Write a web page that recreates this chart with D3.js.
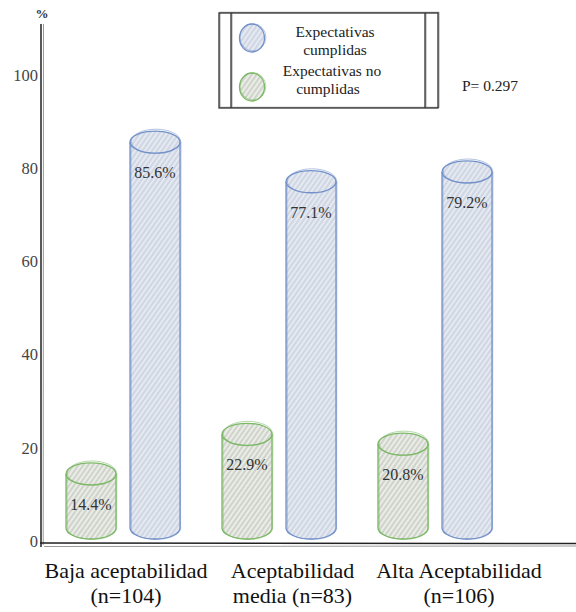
<!DOCTYPE html>
<html>
<head>
<meta charset="utf-8">
<script src="https://cdn.jsdelivr.net/npm/d3@7/dist/d3.min.js"></script>
<style>
  html, body { margin: 0; padding: 0; background: #fff; }
  svg { display: block; }
  svg text { font-family: "Liberation Serif", "Times New Roman", serif; }
</style>
</head>
<body>
<script>
// ---- data ----
const categories = ["Baja aceptabilidad", "Aceptabilidad media", "Alta Aceptabilidad"];
const categoryLines = [["Baja aceptabilidad", "(n=104)"], ["Aceptabilidad", "media (n=83)"], ["Alta Aceptabilidad", "(n=106)"]];
const seriesKeys = ["no", "si"];
const seriesNames = ["Expectativas cumplidas", "Expectativas no cumplidas"];
const noCumplidas = [14.4, 22.9, 20.8];
const cumplidas = [85.6, 77.1, 79.2];
const yTicks = [0, 20, 40, 60, 80, 100];
const pText = "P= 0.297";
const axisUnit = "%";

// ---- layout ----
const W = 576, H = 612;
const SERIF = "Liberation Serif";
const svg = d3.select("body").append("svg").attr("width", W).attr("height", H);

const y = d3.scaleLinear().domain([0, 100]).range([541, 75]);
const x0 = d3.scaleBand().domain(categories).range([66, 492]).paddingInner(0.269).paddingOuter(0);
const x1 = d3.scaleBand().domain(seriesKeys).range([0, x0.bandwidth()]).paddingInner(0.219);
const labelX = d3.scalePoint().domain(categories).range([126, 459]);

const palette = {
  si: { stroke: "#7391c9", fill: "#e4e9f2", hatch: "#bcc4d2" },
  no: { stroke: "#7cb866", fill: "#eaede6", hatch: "#b6bab3" }
};

// hatch patterns
const defs = svg.append("defs");
Object.entries(palette).forEach(([k, c]) => {
  const p = defs.append("pattern")
    .attr("id", "hatch-" + k)
    .attr("patternUnits", "userSpaceOnUse")
    .attr("width", 4).attr("height", 4)
    .attr("patternTransform", "rotate(35)");
  p.append("rect").attr("width", 4).attr("height", 4).attr("fill", c.fill);
  p.append("line").attr("x1", 1).attr("y1", 0).attr("x2", 1).attr("y2", 4)
    .attr("stroke", c.hatch).attr("stroke-width", 1);
});

// sketch passes: each outline is traced twice with a slight offset
const passes = [
  { dx: 0, dy: 0, dr: 0, op: 1, sw: 1.3 },
  { dx: 0.9, dy: -0.7, dr: 1.2, op: 0.55, sw: 1 }
];

function drawCylinder(g, x, w, yt, yb, key) {
  const rx = w / 2, ry = 11;
  const c = palette[key];
  const body = `M${x},${yt} A${rx},${ry} 0 0 1 ${x + w},${yt} L${x + w},${yb} A${rx},${ry} 0 0 1 ${x},${yb} Z`;
  g.append("path").attr("d", body).attr("fill", `url(#hatch-${key})`);
  passes.forEach(p => {
    const s = g.append("g").attr("transform", `translate(${p.dx},${p.dy})`)
      .attr("fill", "none").attr("stroke", c.stroke)
      .attr("stroke-width", p.sw).attr("opacity", p.op);
    const r2 = ry + p.dr;
    s.append("path").attr("d", `M${x},${yt} L${x + p.dx * 0.4},${yb}`);
    s.append("path").attr("d", `M${x + w},${yt} L${x + w - p.dx * 0.4},${yb}`);
    s.append("path").attr("d", `M${x},${yb} A${rx},${r2} 0 0 0 ${x + w},${yb}`);
    s.append("ellipse").attr("cx", x + rx).attr("cy", yt).attr("rx", rx - p.dr * 0.3).attr("ry", r2);
  });
}

// ---- axes ----
const axisG = svg.append("g").attr("transform", "translate(40,0)");
axisG.call(d3.axisLeft(y).tickValues(yTicks).tickSize(0).tickPadding(2).tickFormat(d3.format("d")));
axisG.attr("font-family", SERIF).attr("font-size", 16.5);
axisG.select(".domain").remove();
axisG.selectAll("text").style("font-family", SERIF).attr("fill", "#444");

// double-stroke axis lines
svg.append("line").attr("x1", 41).attr("x2", 41).attr("y1", 24).attr("y2", 547).attr("stroke", "#222").attr("stroke-width", 1.5);
svg.append("line").attr("x1", 43.5).attr("x2", 43.2).attr("y1", 24).attr("y2", 545).attr("stroke", "#999").attr("stroke-width", 1);
svg.append("line").attr("x1", 40).attr("x2", 576).attr("y1", 543).attr("y2", 543.5).attr("stroke", "#222").attr("stroke-width", 1.5);
svg.append("line").attr("x1", 44).attr("x2", 576).attr("y1", 546.5).attr("y2", 546).attr("stroke", "#999").attr("stroke-width", 1);

svg.append("text").attr("x", 42).attr("y", 18).attr("text-anchor", "middle")
  .attr("font-size", 13).attr("font-weight", "bold").attr("fill", "#333").text(axisUnit);

// ---- bars ----
const groups = svg.append("g").selectAll("g")
  .data(categories.map((cat, i) => ({ cat, vals: [{ key: "no", v: noCumplidas[i] }, { key: "si", v: cumplidas[i] }] })))
  .join("g")
  .attr("transform", d => `translate(${x0(d.cat)},0)`);

groups.each(function (d) {
  const g = d3.select(this);
  d.vals.forEach(b => {
    const bx = x1(b.key), bw = x1.bandwidth();
    const yt = y(b.v), yb = y(0) - 13;
    drawCylinder(g, bx, bw, yt, yb, b.key);
    g.append("text")
      .attr("x", bx + bw / 2).attr("y", yt + 36)
      .attr("text-anchor", "middle").attr("font-size", 16).attr("fill", "#333")
      .text(b.v.toFixed(1) + "%");
  });
});

// ---- category labels ----
const catLabels = svg.append("g").selectAll("text")
  .data(categories)
  .join("text")
  .attr("text-anchor", "middle").attr("font-size", 22).attr("fill", "#111")
  .attr("transform", d => `translate(${labelX(d)},578)`);
catLabels.each(function (d, i) {
  d3.select(this).selectAll("tspan").data(categoryLines[i]).join("tspan")
    .attr("x", 0).attr("dy", (t, j) => j === 0 ? 0 : 25).text(t => t);
});

// ---- legend ----
const lg = svg.append("g");
passes.forEach(p => {
  const s = lg.append("g").attr("transform", `translate(${p.dx},${p.dy})`)
    .attr("fill", "none").attr("stroke", "#333").attr("stroke-width", p.sw).attr("opacity", p.op);
  s.append("rect").attr("x", 219).attr("y", 13).attr("width", 219).attr("height", 95);
  s.append("line").attr("x1", 231).attr("x2", 231).attr("y1", 13).attr("y2", 108);
  s.append("line").attr("x1", 425).attr("x2", 425).attr("y1", 13).attr("y2", 108);
});

const legendItems = [
  { key: "si", name: seriesNames[0], lines: ["Expectativas", "cumplidas"], cy: 38, tx: [335, 335], ty: [37, 55] },
  { key: "no", name: seriesNames[1], lines: ["Expectativas no", "cumplidas"], cy: 87, tx: [332, 328], ty: [76, 94] }
];
legendItems.forEach(it => {
  const c = palette[it.key];
  lg.append("ellipse").attr("cx", 252).attr("cy", it.cy).attr("rx", 12.5).attr("ry", 14)
    .attr("fill", `url(#hatch-${it.key})`);
  passes.forEach(p => {
    lg.append("ellipse").attr("cx", 252 + p.dx).attr("cy", it.cy + p.dy)
      .attr("rx", 12.5 + p.dr * 0.4).attr("ry", 14 - p.dr * 0.3)
      .attr("fill", "none").attr("stroke", c.stroke).attr("stroke-width", p.sw).attr("opacity", p.op);
  });
  it.lines.forEach((t, j) => {
    lg.append("text").attr("x", it.tx[j]).attr("y", it.ty[j]).attr("text-anchor", "middle")
      .attr("font-size", 15.5).attr("fill", "#222").text(t);
  });
});

svg.append("text").attr("x", 462).attr("y", 91).attr("font-size", 15.5).attr("fill", "#222").text(pText);
</script>
</body>
</html>
